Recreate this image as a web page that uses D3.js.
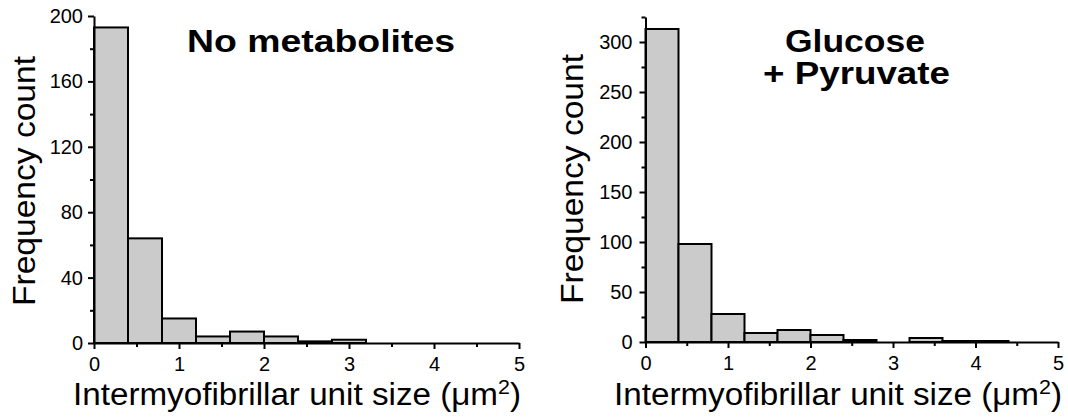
<!DOCTYPE html>
<html>
<head>
<meta charset="utf-8">
<script src="https://cdn.jsdelivr.net/npm/d3@7"></script>
<style>
  body { margin: 0; background: #fff; }
  svg text { font-family: Arial, "Liberation Sans", sans-serif; fill: #000; }
  .axis path, .axis line { stroke: #000; stroke-width: 2; }
  .axis text { font-size: 20px; font-family: Arial, "Liberation Sans", sans-serif; }
</style>
</head>
<body>
<div id="chart"></div>
<script>
// histogram bins (left edge, µm²), each bin 0.4 wide
var binStart = [0, 0.4, 0.8, 1.2, 1.6, 2.0, 2.4, 2.8, 3.2, 3.6, 4.0, 4.4];
var binWidth = 0.4;
// counts
var noMetabolites = [193, 64, 15, 4, 7, 4, 1, 2, 0, 0, 0, 0];
var glucosePyruvate = [313, 98, 28, 9, 12, 7, 2, 0, 4, 1, 1, 0];

var xTicks = [0, 1, 2, 3, 4, 5];
var xMinor = [0.5, 1.5, 2.5, 3.5, 4.5];
var yTicksLeft = [0, 40, 80, 120, 160, 200];
var yMinorLeft = [20, 60, 100, 140, 180];
var yTicksRight = [0, 50, 100, 150, 200, 250, 300];
var yMinorRight = [25, 75, 125, 175, 225, 275, 325];

var W = 1068, H = 419;
var svg = d3.select('#chart').append('svg')
    .attr('width', W)
    .attr('height', H);

// one panel = one histogram with its own scales
function drawPanel(p) {
    var x = d3.scaleLinear().domain([0, 5]).range(p.xr);
    var y = d3.scaleLinear().domain(p.yd).range(p.yr);
    var g = svg.append('g');

    var rows = binStart.map((s, i) => ({s: s, v: p.values[i]})).filter(d => d.v > 0);
    g.selectAll('.bar')
        .data(rows)
        .enter()
        .append('rect')
        .attr('class', 'bar')
        .attr('x', d => x(d.s))
        .attr('width', d => x(d.s + binWidth) - x(d.s))
        .attr('y', d => y(d.v))
        .attr('height', d => y(0) - y(d.v))
        .attr('fill', '#cbcbcb')
        .attr('stroke', '#000')
        .attr('stroke-width', 2);

    // minor ticks first, no labels
    g.append('g').attr('class', 'axis')
        .attr('transform', `translate(0, ${y(0)})`)
        .call(d3.axisBottom(x).tickValues(xMinor).tickSize(4).tickSizeOuter(0).tickFormat(''))
        .select('.domain').remove();
    g.append('g').attr('class', 'axis')
        .attr('transform', `translate(${x(0)}, 0)`)
        .call(d3.axisLeft(y).tickValues(p.yMinor).tickSize(4).tickSizeOuter(0).tickFormat(''))
        .select('.domain').remove();

    g.append('g').attr('class', 'axis')
        .attr('transform', `translate(0, ${y(0)})`)
        .call(d3.axisBottom(x).tickValues(xTicks).tickSize(6).tickSizeOuter(0)
            .tickPadding(8).tickFormat(d3.format('d')));
    g.append('g').attr('class', 'axis')
        .attr('transform', `translate(${x(0)}, 0)`)
        .call(d3.axisLeft(y).tickValues(p.yTicks).tickSize(6).tickSizeOuter(0)
            .tickPadding(p.yPad).tickFormat(d3.format('d')));

    // axis titles
    var xl = g.append('text')
        .attr('x', p.xLabel[0])
        .attr('y', 405)
        .attr('font-size', 31)
        .attr('textLength', 448)
        .attr('lengthAdjust', 'spacingAndGlyphs');
    xl.append('tspan').text('Intermyofibrillar unit size (μm');
    xl.append('tspan').attr('font-size', 20).attr('dy', -11).text('2');
    xl.append('tspan').attr('dy', 11).text(')');

    g.append('text')
        .attr('transform', `translate(${p.yLabel[0]}, ${p.yLabel[1]}) rotate(-90)`)
        .attr('text-anchor', 'middle')
        .attr('font-size', 31)
        .attr('textLength', 250)
        .attr('lengthAdjust', 'spacingAndGlyphs')
        .text('Frequency count');

    p.title.forEach(t => {
        g.append('text')
            .attr('x', t.x)
            .attr('y', t.y)
            .attr('font-size', 31)
            .attr('font-weight', 'bold')
            .attr('textLength', t.w)
            .attr('lengthAdjust', 'spacingAndGlyphs')
            .text(t.text);
    });
}

drawPanel({
    values: noMetabolites,
    xr: [94, 519], yd: [0, 200], yr: [343, 16],
    yTicks: yTicksLeft, yMinor: yMinorLeft, yPad: 5,
    xLabel: [73], yLabel: [35, 181],
    title: [{text: 'No metabolites', x: 187, y: 52, w: 268}]
});

drawPanel({
    values: glucosePyruvate,
    xr: [645.5, 1058], yd: [0, 325], yr: [342, 17],
    yTicks: yTicksRight, yMinor: yMinorRight, yPad: 7,
    xLabel: [614], yLabel: [583, 179],
    title: [{text: 'Glucose', x: 785, y: 52, w: 140},
            {text: '+ Pyruvate', x: 763, y: 84, w: 187}]
});
</script>
</body>
</html>
